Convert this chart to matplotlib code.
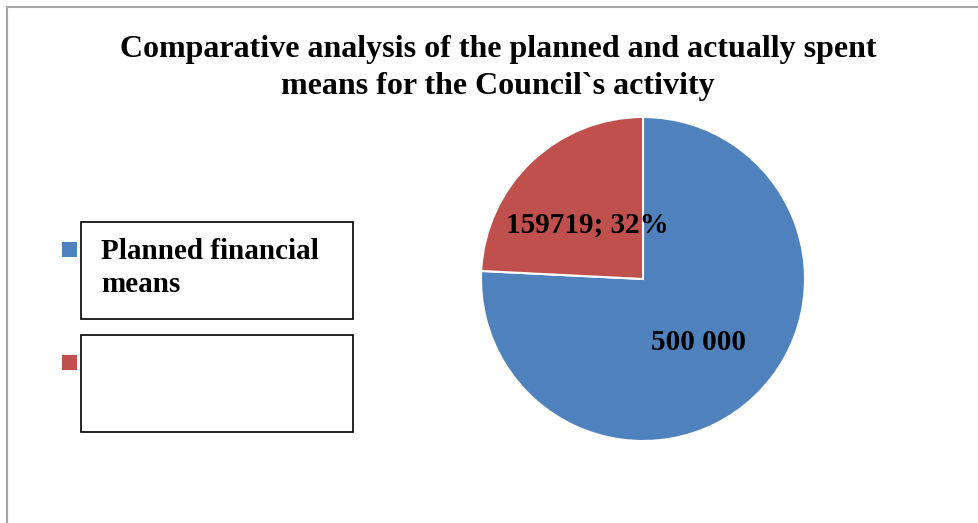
import matplotlib.pyplot as plt
import numpy as np
from matplotlib.patches import Rectangle
from matplotlib.lines import Line2D

# data
values = [500000, 159719]
slice_labels = ["500 000", "159719; 32%"]
legend_labels = ["Planned financial\nmeans", ""]
colors = ["#4f81bd", "#c0504d"]
title = "Comparative analysis of the planned and actually spent\nmeans for the Council`s activity"

W, H = 979, 523
fig = plt.figure(figsize=(W / 100, H / 100), dpi=100)
plt.rcParams['font.family'] = ['Liberation Serif', 'DejaVu Serif']

def fx(px):
    return px / W

def fy(py):
    return 1 - py / H

# outer frame (only left and top visible)
fig.add_artist(Line2D([fx(7), fx(7)], [0, fy(7)], color="#a6a6a6", lw=1.5))
fig.add_artist(Line2D([fx(7), 1], [fy(7), fy(7)], color="#a6a6a6", lw=1.5))

fig.text(fx(498), fy(68), title, ha="center", va="center",
         fontsize=23, fontweight="bold", linespacing=1.38)

# pie
ax = fig.add_axes([fx(481), fy(441), fx(805) - fx(481), fy(117) - fy(441)])
wedges, _ = ax.pie(values, colors=colors, startangle=90, counterclock=False,
                   wedgeprops=dict(edgecolor="white", linewidth=1.5))
ax.set_xlim(-1, 1)
ax.set_ylim(-1, 1)
ax.set_aspect("equal")
ax.axis("off")

for w, lab in zip(wedges, slice_labels):
    mid = np.deg2rad((w.theta1 + w.theta2) / 2)
    ax.text(0.5 * np.cos(mid), 0.5 * np.sin(mid) - 0.03, lab, ha="center", va="center",
            fontsize=21, fontweight="bold")

# legend drawn as separate boxes
box_tops = [222, 335]
for i, (lab, c) in enumerate(zip(legend_labels, colors)):
    top = box_tops[i]
    fig.add_artist(Rectangle((fx(62), fy(top + 35)), fx(15), fy(0) - fy(15),
                             facecolor=c, edgecolor="none"))
    fig.add_artist(Rectangle((fx(81), fy(top + 97)), fx(272), fy(0) - fy(97),
                             facecolor="white", edgecolor="black", linewidth=1.2))
    if lab:
        fig.text(fx(101), fy(top + 46), lab, ha="left", va="center",
                 fontsize=21, fontweight="bold", linespacing=1.3)

fig.savefig("out.png", dpi=100)
